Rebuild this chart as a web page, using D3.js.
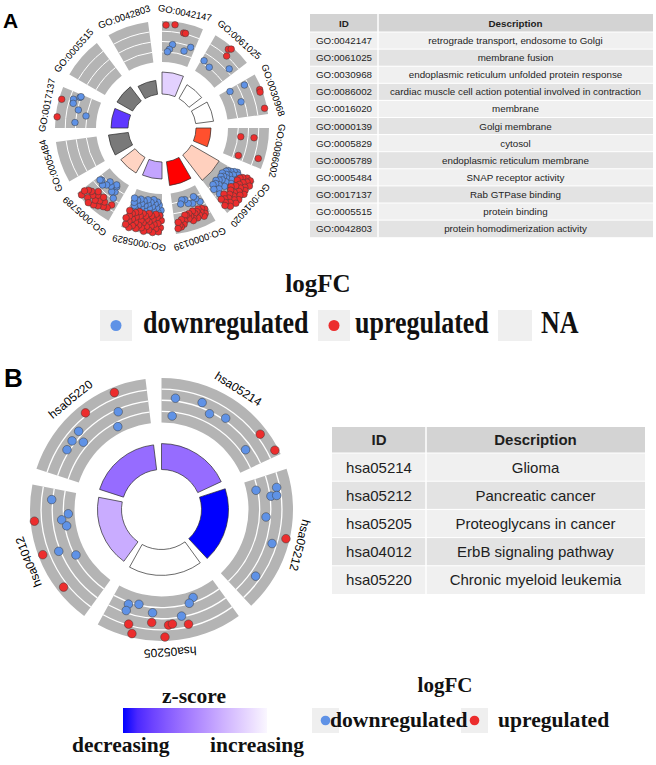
<!DOCTYPE html>
<html>
<head>
<meta charset="utf-8">
<script src="https://cdn.jsdelivr.net/npm/d3@7"></script>
<style>
  body { margin: 0; background: #fff; }
  svg { display: block; }
</style>
</head>
<body>
<svg id="fig" width="656" height="765"></svg>
<script>
// ---- Panel A: GO terms (clockwise from 12 o'clock) ----
const goIds = ['GO:0042147', 'GO:0061025', 'GO:0030968', 'GO:0086002', 'GO:0016020', 'GO:0000139',
    'GO:0005829', 'GO:0005789', 'GO:0005484', 'GO:0017137', 'GO:0005515', 'GO:0042803'];
const goDesc = ['retrograde transport, endosome to Golgi', 'membrane fusion',
    'endoplasmic reticulum unfolded protein response',
    'cardiac muscle cell action potential involved in contraction', 'membrane', 'Golgi membrane',
    'cytosol', 'endoplasmic reticulum membrane', 'SNAP receptor activity', 'Rab GTPase binding',
    'protein binding', 'protein homodimerization activity'];
// z-score (null = NA, drawn gray)
const goZ = [-0.5, 0, 0, 2.2, 0.65, 2.6, -1.0, 0.6, null, -2.2, null, null];
// -log10 adjusted p, bar height
const goSig = [5.5, 4, 4.5, 3.75, 8, 6, 4.25, 4.5, 5, 4.25, 4.5, 3.5];
// genes per term: [position along segment 0..1, level in track 0..4, 1 = up / -1 = down]
const goPts = [
    [[0.10, 3.61, 1], [0.32, 3.71, 1], [0.57, 3.07, 1], [0.62, 3.07, 1],
     [0.32, 1.76, -1], [0.24, 1.27, -1], [0.18, 1.02, -1], [0.71, 1.37, -1], [0.87, 1.91, -1]],
    [[0.45, 3.6, 1], [0.5, 3.8, 1], [0.53, 3.0, 1],
     [0.09, 1.3, -1], [0.35, 1.07, -1], [0.83, 2.29, -1]],
    [[0.11, 2.63, -1], [0.08, 1.09, -1], [0.52, 1.69, -1],
     [0.38, 3.8, 1], [0.44, 3.75, 1], [0.85, 3.75, 1]],
    [[0.28, 1.29, 1], [0.27, 2.59, 1], [0.88, 1.48, 1], [0.78, 3.41, 1]],
    [[0.02, 2.1, -1], [0.05, 1.8, -1], [0.08, 2.3, -1], [0.1, 1.5, -1], [0.13, 1.2, -1], [0.15, 1.9, -1],
     [0.18, 1.1, -1], [0.21, 2.4, -1], [0.22, 1.6, -1], [0.26, 1.3, -1], [0.29, 2.0, -1], [0.3, 0.9, -1],
     [0.34, 1.5, -1], [0.36, 1.2, -1], [0.39, 2.2, -1], [0.42, 1.0, -1], [0.45, 1.7, -1], [0.48, 1.3, -1],
     [0.5, 2.4, -1], [0.55, 1.1, -1], [0.58, 1.9, -1], [0.63, 0.9, -1], [0.66, 1.4, -1], [0.71, 1.1, -1],
     [0.75, 1.7, -1], [0.8, 1.0, -1], [0.84, 2.1, -1], [0.88, 1.4, -1],
     [0.02, 3.2, 1], [0.04, 3.6, 1], [0.07, 2.8, 1], [0.11, 3.4, 1], [0.12, 2.6, 1], [0.16, 3.8, 1],
     [0.18, 3.1, 1], [0.21, 2.5, 1], [0.25, 3.5, 1], [0.27, 2.9, 1], [0.31, 3.7, 1], [0.33, 3.2, 1],
     [0.36, 2.7, 1], [0.4, 3.85, 1], [0.42, 3.3, 1], [0.46, 2.4, 1], [0.48, 3.6, 1], [0.52, 3.0, 1],
     [0.54, 2.6, 1], [0.58, 3.8, 1], [0.6, 3.2, 1], [0.64, 2.8, 1], [0.66, 3.5, 1], [0.69, 3.85, 1],
     [0.73, 3.0, 1], [0.75, 2.4, 1], [0.78, 3.4, 1], [0.82, 2.8, 1], [0.84, 3.7, 1], [0.87, 3.1, 1],
     [0.9, 2.6, 1], [0.93, 3.3, 1]],
    [[0.12, 1.65, -1], [0.2, 1.2, -1], [0.24, 0.93, -1], [0.35, 1.5, -1], [0.48, 1.35, -1], [0.55, 0.9, -1],
     [0.65, 0.84, -1], [0.72, 1.2, -1],
     [0.1, 2.5, 1], [0.14, 2.9, 1], [0.17, 2.3, 1], [0.2, 3.1, 1], [0.23, 2.6, 1], [0.27, 2.2, 1],
     [0.3, 2.8, 1], [0.33, 2.4, 1], [0.37, 3.0, 1], [0.4, 2.5, 1], [0.44, 2.2, 1], [0.47, 2.9, 1],
     [0.5, 3.1, 1], [0.53, 2.6, 1], [0.56, 2.3, 1], [0.6, 2.8, 1], [0.64, 2.4, 1], [0.68, 2.35, 1],
     [0.72, 2.9, 1], [0.76, 3.2, 1], [0.8, 2.7, 1], [0.84, 3.4, 1], [0.87, 3.2, 1], [0.9, 2.9, 1],
     [0.93, 3.5, 1]],
    [[0.03, 1.6, -1], [0.06, 2.1, -1], [0.09, 1.1, -1], [0.12, 1.8, -1], [0.15, 0.8, -1], [0.17, 1.4, -1],
     [0.2, 2.2, -1], [0.23, 1.0, -1], [0.26, 1.7, -1], [0.29, 0.6, -1], [0.31, 1.3, -1], [0.34, 2.0, -1],
     [0.37, 0.9, -1], [0.4, 1.5, -1], [0.43, 2.3, -1], [0.46, 1.1, -1], [0.49, 0.7, -1], [0.52, 1.8, -1],
     [0.55, 1.3, -1], [0.58, 2.1, -1], [0.61, 0.9, -1], [0.64, 1.6, -1], [0.67, 1.2, -1], [0.7, 2.0, -1],
     [0.73, 0.8, -1], [0.76, 1.5, -1], [0.79, 1.9, -1], [0.83, 1.0, -1], [0.87, 1.6, -1], [0.91, 1.3, -1],
     [0.95, 0.9, -1],
     [0.02, 2.6, 1], [0.04, 3.3, 1], [0.07, 2.1, 1], [0.09, 3.7, 1], [0.11, 2.9, 1], [0.14, 2.3, 1],
     [0.16, 3.4, 1], [0.18, 2.0, 1], [0.21, 3.0, 1], [0.23, 3.8, 1], [0.25, 2.5, 1], [0.28, 3.2, 1],
     [0.3, 2.2, 1], [0.33, 3.6, 1], [0.35, 2.8, 1], [0.38, 2.0, 1], [0.4, 3.3, 1], [0.42, 2.6, 1],
     [0.45, 3.8, 1], [0.47, 2.3, 1], [0.5, 3.0, 1], [0.52, 3.5, 1], [0.55, 2.1, 1], [0.57, 2.8, 1],
     [0.6, 3.3, 1], [0.62, 2.4, 1], [0.65, 3.7, 1], [0.67, 2.0, 1], [0.7, 3.1, 1], [0.72, 2.6, 1],
     [0.75, 3.5, 1], [0.77, 2.2, 1], [0.8, 2.9, 1], [0.82, 3.8, 1], [0.85, 2.4, 1], [0.87, 3.2, 1],
     [0.9, 2.7, 1], [0.92, 3.6, 1], [0.95, 2.2, 1], [0.97, 3.0, 1]],
    [[0.21, 1.9, -1], [0.28, 1.29, -1], [0.34, 0.79, -1], [0.38, 0.66, -1], [0.37, 1.48, -1], [0.5, 1.1, -1],
     [0.62, 0.86, -1], [0.63, 1.31, -1], [0.72, 1.6, -1], [0.85, 1.33, -1], [0.89, 1.45, -1],
     [0.14, 2.54, 1], [0.2, 3.0, 1], [0.3, 3.14, 1], [0.35, 2.7, 1], [0.42, 3.4, 1], [0.47, 2.9, 1],
     [0.52, 3.6, 1], [0.57, 3.16, 1], [0.6, 2.6, 1], [0.67, 2.34, 1], [0.7, 3.0, 1], [0.75, 3.5, 1],
     [0.8, 2.8, 1], [0.88, 2.96, 1], [0.9, 3.77, 1], [0.93, 3.3, 1], [0.65, 3.8, 1], [0.45, 2.4, 1]],
    [],
    [[0.71, 3.74, 1], [0.27, 3.85, 1],
     [0.8, 2.65, -1], [0.91, 2.1, -1], [0.69, 2.55, -1], [0.54, 1.91, -1], [0.4, 1.07, -1],
     [0.16, 2.07, -1], [0.94, 2.03, -1]],
    [],
    []
];

// ---- Panel B: KEGG pathways ----
const keggIds = ['hsa05214', 'hsa05212', 'hsa05205', 'hsa04012', 'hsa05220'];
const keggDesc = ['Glioma', 'Pancreatic cancer', 'Proteoglycans in cancer', 'ErbB signaling pathway',
    'Chronic myeloid leukemia'];
const keggZ = [-1.25, -2.0, 0, -0.7, -1.25];
const keggSig = [9.6, 10, 9.6, 8.9, 9.3];
const keggPts = [
    [[0.11, 2.26, -1], [0.32, 2.46, -1], [0.41, 1.81, -1], [0.54, 2.21, -1], [0.1, 0.64, -1], [0.84, 1.45, -1],
     [0.81, 3.34, 1], [0.96, 3.68, 1]],
    [[0.1, 0.85, -1], [0.11, 2.72, -1], [0.17, 2.09, -1], [0.17, 2.61, -1], [0.34, 1.6, -1], [0.54, 2.58, -1],
     [0.82, 2.55, -1], [0.48, 3.67, 1]],
    [[0.25, 0.58, -1], [0.3, 0.97, -1], [0.85, 1.19, -1], [0.76, 0.94, -1], [0.85, 1.8, -1], [0.63, 1.5, -1],
     [0.39, 1.93, -1],
     [0.8, 2.9, 1], [0.63, 2.38, 1], [0.5, 2.59, 1], [0.47, 2.52, 1], [0.35, 2.77, 1], [0.76, 3.65, 1],
     [0.53, 3.65, 1]],
    [[0.91, 2.09, -1], [0.79, 0.57, -1], [0.74, 1.2, -1], [0.68, 0.83, -1], [0.49, 2.15, -1], [0.4, 0.89, -1],
     [0.75, 3.65, 1], [0.51, 3.6, 1], [0.24, 3.41, 1]],
    [[0.77, 3.51, 1], [0.52, 3.23, 1],
     [0.74, 1.79, -1], [0.68, 0.6, -1], [0.39, 2.42, -1], [0.3, 2.31, -1], [0.35, 1.45, -1], [0.22, 2.23, -1]]
];

const UP = '#ec2d2d', DOWN = '#5f92e6', NA_COL = '#797979', TRACK = '#b4b4b4';
const SANS = "'Liberation Sans', Arial, sans-serif";
const SERIF = "'Liberation Serif', 'Times New Roman', serif";
const RAD = Math.PI / 180;

const svg = d3.select('#fig');

function zColorScale(zMax) {
    return d3.scaleLinear()
        .domain([-zMax, 0, zMax])
        .range(['#0000ff', '#ffffff', '#ff0000'])
        .interpolate(d3.interpolateLab)
        .clamp(true);
}

/*
 * One GOCircle: outer gray tracks with gene dots, inner ring of bars coloured by z-score
 */
function drawCircle(ids, zs, sig, pts, o) {
    const g = svg.append('g').attr('transform', `translate(${o.cx},${o.cy})`);
    const slot = 360 / ids.length;
    const zColor = zColorScale(o.zMax);
    const barH = d3.scaleLinear().domain([0, 10]).range([0, o.barPx * 10]);
    const level = d3.scaleLinear().domain([0, 4]).range([o.trackIn, o.trackOut]);

    ids.forEach((id, i) => {
        const a0 = i * slot, a1 = a0 + slot - o.gap;
        const ang = d3.scaleLinear().domain([0, 1]).range([a0, a1]);
        const seg = g.append('g');

        // gray track
        seg.append('path')
            .attr('d', d3.arc()({ innerRadius: o.trackIn, outerRadius: o.trackOut,
                startAngle: a0 * RAD, endAngle: a1 * RAD }))
            .attr('fill', TRACK);
        // white guide lines
        [1, 2, 3].forEach(k => {
            const p = d3.path();
            p.arc(0, 0, level(k), (a0 - 90) * RAD, (a1 - 90) * RAD);
            seg.append('path')
                .attr('d', p.toString())
                .attr('fill', 'none')
                .attr('stroke', '#fff')
                .attr('stroke-width', o.lineW);
        });

        // inner bar
        seg.append('path')
            .attr('d', d3.arc()({ innerRadius: o.barIn, outerRadius: o.barIn + barH(sig[i]),
                startAngle: a0 * RAD, endAngle: a1 * RAD }))
            .attr('fill', zs[i] === null ? NA_COL : zColor(zs[i]))
            .attr('stroke', '#2a2a2a')
            .attr('stroke-width', 0.7);

        // genes: downregulated first, upregulated drawn over them
        const genes = pts[i].slice().sort((a, b) => a[2] - b[2]);
        seg.selectAll('circle')
            .data(genes)
            .enter()
            .append('circle')
                .attr('cx', d => level(d[1]) * Math.sin(ang(d[0]) * RAD))
                .attr('cy', d => -level(d[1]) * Math.cos(ang(d[0]) * RAD))
                .attr('r', o.dotR)
                .attr('fill', d => d[2] > 0 ? UP : DOWN)
                .attr('stroke', '#3a3a3a')
                .attr('stroke-width', 0.5);

        // term label, following the circle
        seg.append('text')
            .attr('transform', `rotate(${(a0 + a1) / 2}) translate(0,${-o.labelR})`)
            .attr('dy', '0.35em')
            .attr('text-anchor', 'middle')
            .attr('font-family', SANS)
            .attr('font-size', o.labelSize)
            .attr('fill', '#000')
            .text(id);
    });
}

function drawTable(ids, descs, o) {
    const g = svg.append('g').attr('transform', `translate(${o.x},${o.y})`);
    const w = o.colW[0] + o.colW[1];
    const rows = [['ID', 'Description']].concat(ids.map((id, i) => [id, descs[i]]));
    const yOf = i => i === 0 ? 0 : o.headH + (i - 1) * o.rowH;
    rows.forEach((row, i) => {
        const h = i === 0 ? o.headH : o.rowH;
        const fill = i === 0 ? '#d3d3d3' : (i % 2 ? '#f0f0f0' : '#e3e3e3');
        g.append('rect').attr('x', 0).attr('y', yOf(i)).attr('width', w).attr('height', h).attr('fill', fill);
        [o.colW[0] / 2, o.colW[0] + o.colW[1] / 2].forEach((cx, j) => {
            g.append('text')
                .attr('x', cx)
                .attr('y', yOf(i) + h / 2)
                .attr('dy', '0.36em')
                .attr('text-anchor', 'middle')
                .attr('font-family', SANS)
                .attr('font-size', o.fontSize)
                .attr('font-weight', i === 0 ? 'bold' : 'normal')
                .attr('fill', '#1e1e1e')
                .text(row[j]);
        });
        if (i > 0) {
            g.append('line').attr('x1', 0).attr('x2', w).attr('y1', yOf(i)).attr('y2', yOf(i))
                .attr('stroke', '#fff').attr('stroke-width', 1);
        }
    });
    const total = o.headH + ids.length * o.rowH;
    g.append('line').attr('x1', o.colW[0]).attr('x2', o.colW[0]).attr('y1', 0).attr('y2', total)
        .attr('stroke', '#fff').attr('stroke-width', 1.5);
}

// stretch > 1 makes the glyphs taller, as in the panel A legend
function legendText(x, y, size, txt, anchor, stretch) {
    svg.append('text')
        .attr('transform', `translate(${x},${y}) scale(1,${stretch || 1})`)
        .attr('text-anchor', anchor || 'start')
        .attr('font-family', SERIF)
        .attr('font-weight', 'bold')
        .attr('font-size', size)
        .attr('fill', '#111')
        .text(txt);
}

function legendKey(x, y, w, h, dotColor, dotR) {
    svg.append('rect').attr('x', x).attr('y', y).attr('width', w).attr('height', h).attr('fill', '#efefef');
    if (dotColor) {
        svg.append('circle').attr('cx', x + w / 2).attr('cy', y + h / 2).attr('r', dotR).attr('fill', dotColor);
    }
}

// ---- Panel A ----
svg.append('text').attr('x', 3).attr('y', 28).attr('font-family', SANS).attr('font-weight', 'bold')
    .attr('font-size', 21).text('A');

drawCircle(goIds, goZ, goSig, goPts, {
    cx: 162, cy: 128, gap: 7.5, barIn: 34, barPx: 4, trackIn: 66, trackOut: 107,
    lineW: 1, labelR: 117.5, labelSize: 9.5, dotR: 3.3, zMax: 2.6
});

drawTable(goIds, goDesc, { x: 310, y: 14, colW: [68, 275], headH: 18, rowH: 17.1, fontSize: 9.8 });

legendText(318, 292, 25, 'logFC', 'middle');
legendKey(100, 310, 32, 31, DOWN, 5.5);
legendKey(318, 310, 32, 31, UP, 5.5);
legendKey(498, 310, 34, 31, null);
legendText(143, 333, 26, 'downregulated', 'start', 1.2);
legendText(355, 333, 26, 'upregulated', 'start', 1.2);
legendText(541, 333, 26, 'NA', 'start', 1.2);

// ---- Panel B ----
svg.append('text').attr('x', 4).attr('y', 387).attr('font-family', SANS).attr('font-weight', 'bold')
    .attr('font-size', 26).text('B');

drawCircle(keggIds, keggZ, keggSig, keggPts, {
    cx: 161.5, cy: 509.5, gap: 7, barIn: 40, barPx: 2.7, trackIn: 87, trackOut: 131.5,
    lineW: 1.3, labelR: 143, labelSize: 12, dotR: 4.3, zMax: 2
});

drawTable(keggIds, keggDesc, { x: 332, y: 427, colW: [94, 219], headH: 26, rowH: 28.2, fontSize: 15 });

// z-score gradient
const zB = zColorScale(2);
const grad = svg.append('defs').append('linearGradient').attr('id', 'zgrad');
d3.range(0, 1.01, 0.1).forEach(t => {
    grad.append('stop').attr('offset', t).attr('stop-color', zB(-2 + t * 1.93));
});
legendText(194, 703, 21.5, 'z-score', 'middle');
svg.append('rect').attr('x', 123).attr('y', 708).attr('width', 144).attr('height', 25).attr('fill', 'url(#zgrad)');
legendText(72, 752, 21.5, 'decreasing');
legendText(210, 752, 21.5, 'increasing');

legendText(445, 692, 21, 'logFC', 'middle');
legendKey(312, 708, 27, 25, DOWN, 4.8);
legendKey(461, 708, 27, 25, UP, 4.8);
legendText(330, 727, 21.6, 'downregulated');
legendText(498, 727, 21.6, 'upregulated');
</script>
</body>
</html>
